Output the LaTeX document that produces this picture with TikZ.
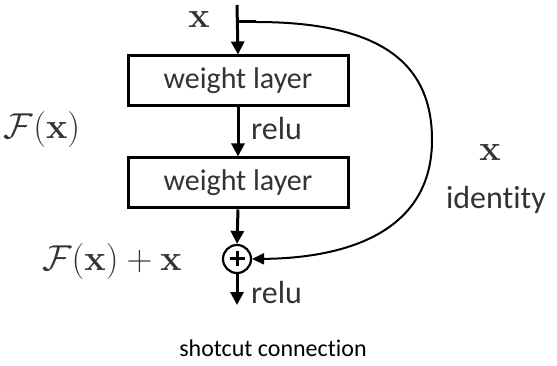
\documentclass[tikz,border=0pt]{standalone}
\usepackage{fix-cm}
\usepackage{amsmath}
\usepackage[no-math]{fontspec}
\setmainfont{Carlito}[Ligatures=NoCommon]
\DeclareMathSizes{36}{36}{25}{18}
\usetikzlibrary{arrows.meta}
\definecolor{txt}{HTML}{333333}
\begin{document}
\begin{tikzpicture}[x=1pt,y=-1pt,
  wbox/.style={draw=black,line width=3pt,minimum width=220pt,minimum height=50pt,inner sep=0pt,
    font=\fontsize{30}{34}\selectfont,text=txt},
  lbl/.style={font=\fontsize{32}{36}\selectfont,text=txt,inner sep=0pt},
  mlbl/.style={font=\fontsize{36}{40}\selectfont,text=txt,inner sep=0pt},
  flow/.style={line width=3pt,-{Triangle[length=13pt,width=13pt]}},
  skip/.style={line width=2pt,-{Triangle[length=12pt,width=11pt]}}]
\useasboundingbox (0,0) rectangle (557,366);
\node[wbox] (b1) at (238,81) {weight layer};
\node[wbox] (b2) at (238,183) {weight layer};
\node[draw=black,line width=2.2pt,circle,minimum size=28pt,inner sep=0pt] (add) at (237,259) {};
\draw[line width=3pt] ([xshift=-7.5pt]add.center) -- ([xshift=7.5pt]add.center);
\draw[line width=3pt] ([yshift=-7.5pt]add.center) -- ([yshift=7.5pt]add.center);
\coordinate (in) at (237,5);
\coordinate (br) at (237,22);
\coordinate (brend) at (256,22);
\coordinate (out) at (237,305);
\draw[flow] (in) -- (b1.north);
\draw[flow] (b1.south) -- (b2.north);
\draw[flow] (b2.south) -- (add.north);
\draw[flow] (add.south) -- (out);
\draw[line width=3pt] (br) -- (brend);
\draw[skip] (brend) .. controls (390,22) and (432,70) .. (432,140)
  .. controls (432,230) and (350,258) .. (add.east);
\node[mlbl] (xtop) at (199,20) {$\mathbf{x}$};
\node[mlbl] (fx) at (42,130) {$\mathcal{F}(\mathbf{x})$};
\node[mlbl] (fxx) at (112,262) {$\mathcal{F}(\mathbf{x})+\mathbf{x}$};
\node[mlbl] (xid) at (490,153) {$\mathbf{x}$};
\node[lbl] (idt) at (496,200) {identity};
\node[lbl,anchor=west] (relu1) at (251,129) {relu};
\node[lbl,anchor=west] (relu2) at (251,293) {relu};
\node[font=\fontsize{24}{28}\selectfont,text=black,inner sep=0pt] (cap) at (273,348) {shotcut connection};
\end{tikzpicture}
\end{document}
